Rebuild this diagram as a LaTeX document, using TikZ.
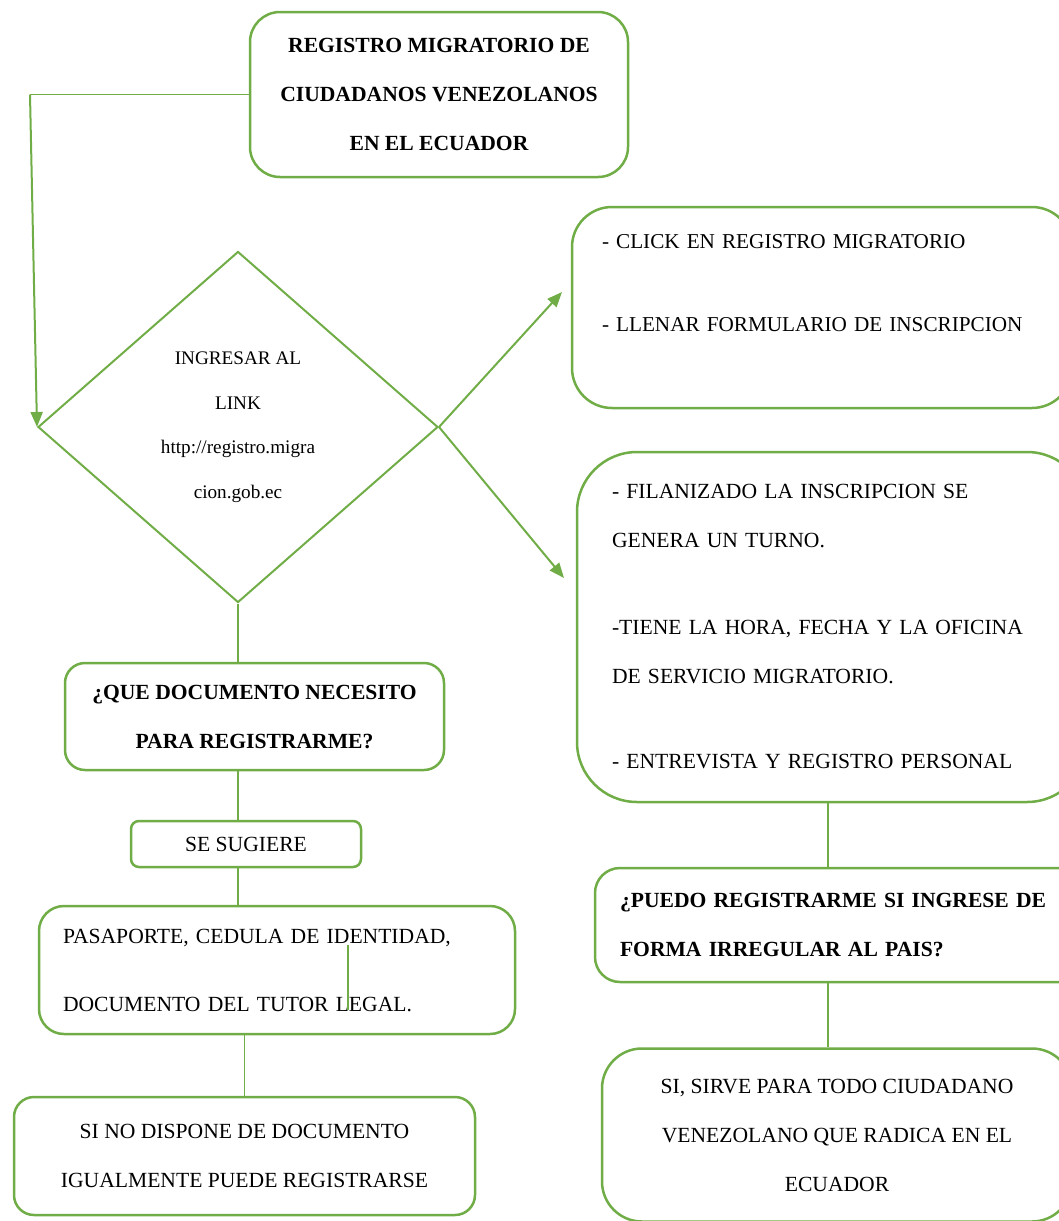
\documentclass[tikz,border=0pt]{standalone}
\usepackage{fontspec}
\setmainfont{Liberation Serif}
\usetikzlibrary{shapes.geometric,arrows.meta}
\definecolor{officegreen}{HTML}{70AD47}
\tikzset{
	caja/.style={draw=officegreen, line width=1.25pt, inner sep=0pt, font=\fontsize{10.8}{24.5}\selectfont},
	conector/.style={draw=officegreen, line width=0.6pt},
	flecha/.style={draw=officegreen, line width=1pt, -{Triangle[length=7.5pt,width=6pt]}, fill=officegreen}
}
\begin{document}
\begin{tikzpicture}[x=0.5pt, y=-0.5pt]
		
		\useasboundingbox (0,0) rectangle (1059,1221);
		\clip (0,0) rectangle (1059,1221);
		
		% columna izquierda
		\node[caja, rounded corners=15pt, minimum width=189pt, minimum height=82.5pt, align=center, font=\fontsize{10.8}{24.5}\selectfont\bfseries] (titulo) at (439,94.5) {REGISTRO MIGRATORIO DE\\CIUDADANOS VENEZOLANOS\\EN EL ECUADOR};
		\node[diamond, draw=officegreen, line width=1pt, inner sep=0pt, minimum width=200pt, minimum height=175.5pt, align=center, font=\fontsize{9.6}{22.25}\selectfont] (ingreso) at (238,427) {INGRESAR AL\\LINK\\http://registro.migra\\cion.gob.ec};
		\node[caja, rounded corners=10pt, minimum width=189.5pt, minimum height=53.5pt, align=center, font=\fontsize{10.8}{24.5}\selectfont\bfseries] (pregdoc) at (254.5,716.5) {¿QUE DOCUMENTO NECESITO\\PARA REGISTRARME?};
		\node[caja, rounded corners=4pt, minimum width=115pt, minimum height=23pt] (sugiere) at (246,844) {SE SUGIERE};
		\node[caja, rounded corners=12.5pt, minimum width=238pt, minimum height=64pt, text width=214pt, inner xsep=12pt, align=left] (docs) at (277,970) {PASAPORTE, CEDULA DE IDENTIDAD,\\[9.5pt]DOCUMENTO DEL TUTOR LEGAL.};
		\node[caja, rounded corners=10pt, minimum width=230.5pt, minimum height=59pt, align=center] (sindoc) at (244.5,1156) {SI NO DISPONE DE DOCUMENTO\\IGUALMENTE PUEDE REGISTRARSE};
		
		% columna derecha
		\node[caja, rounded corners=20pt, minimum width=249pt, minimum height=100.5pt, text width=220pt, inner xsep=15pt, align=left, font=\fontsize{10.6}{24.5}\selectfont] (clic) at (822,307.5) {- CLICK EN REGISTRO MIGRATORIO\\[17pt]- LLENAR FORMULARIO DE INSCRIPCION\\~};
		\node[caja, rounded corners=30pt, minimum width=249pt, minimum height=175pt, text width=220pt, inner xsep=17.5pt, align=left] (turno) at (832,627) {- FILANIZADO LA INSCRIPCION SE\\GENERA UN TURNO.\\[19pt]-TIENE LA HORA, FECHA Y LA OFICINA\\DE SERVICIO MIGRATORIO.\\[18pt]- ENTREVISTA Y REGISTRO PERSONAL};
		\node[caja, rounded corners=12.5pt, minimum width=238.5pt, minimum height=57pt, text width=225pt, inner xsep=12.5pt, align=left, font=\fontsize{10.8}{24.5}\selectfont\bfseries] (pregirr) at (845,925) {¿PUEDO REGISTRARME SI INGRESE DE\\FORMA IRREGULAR AL PAIS?};
		\node[caja, rounded corners=20pt, minimum width=235pt, minimum height=86.5pt, align=center] (sirve) at (837,1135) {SI, SIRVE PARA TODO CIUDADANO\\VENEZOLANO QUE RADICA EN EL\\ECUADOR};
		
		\coordinate (codo) at (30,94.5);
		\coordinate (puntaclic) at (562,292);
		\coordinate (puntaturno) at (564,578);
		\coordinate (ejeder) at (828,0);
		
		% flechas
		\draw[conector] (titulo.west) -- (codo);
		\draw[flecha] (codo) -- (ingreso.west);
		\draw[flecha] (ingreso.east) -- (puntaclic);
		\draw[flecha] (ingreso.east) -- (puntaturno);
		
		% lineas
		\draw[conector] (ingreso.south) -- (ingreso.south |- pregdoc.north);
		\draw[conector] (ingreso.south |- pregdoc.south) -- (ingreso.south |- sugiere.north);
		\draw[conector] (ingreso.south |- sugiere.south) -- (ingreso.south |- docs.north);
		\draw[conector] (sindoc.north |- docs.south) -- (sindoc.north);
		\draw[conector] (ejeder |- turno.south) -- (ejeder |- pregirr.north);
		\draw[conector] (ejeder |- pregirr.south) -- (ejeder |- sirve.north);
		\draw[conector, line width=0.8pt] (348,945) -- (348,1010);
	
	\end{tikzpicture}
\end{document}
